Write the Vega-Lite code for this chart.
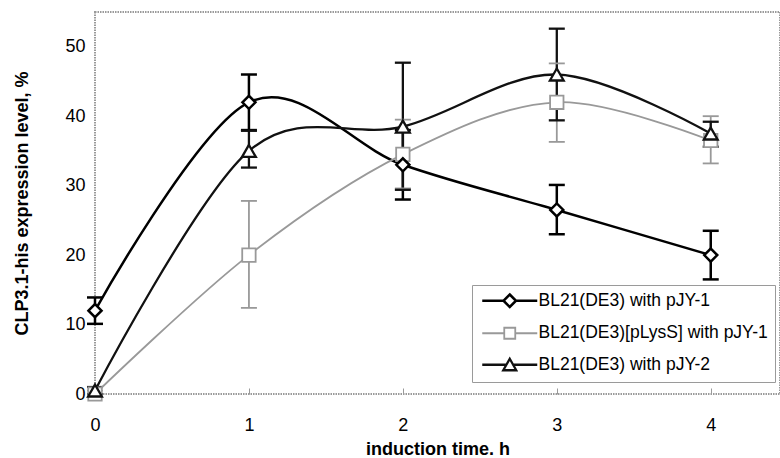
{
  "$schema": "https://vega.github.io/schema/vega-lite/v6.json",
  "width": 685,
  "height": 382,
  "autosize": {"type": "none"},
  "padding": {"left": 95, "top": 12, "right": 0, "bottom": 64},
  "background": "white",
  "config": {
    "font": "Liberation Sans",
    "view": {"stroke": "#9a9a9a", "strokeWidth": 2, "strokeDash": [1.5, 1]},
    "axis": {
      "grid": false,
      "domain": false,
      "labelFont": "Liberation Sans",
      "labelFontSize": 18,
      "labelColor": "#000000",
      "titleFont": "Liberation Sans",
      "titleFontSize": 18,
      "titleFontWeight": "bold",
      "titleColor": "#000000"
    }
  },
  "data": {
    "values": [
      {"s": "BL21(DE3) with pJY-1", "t": 0, "v": 12, "lo": 10.1, "hi": 13.9},
      {"s": "BL21(DE3) with pJY-1", "t": 1, "v": 42, "lo": 38, "hi": 46},
      {"s": "BL21(DE3) with pJY-1", "t": 2, "v": 33, "lo": 28, "hi": 38},
      {"s": "BL21(DE3) with pJY-1", "t": 3, "v": 26.5, "lo": 23, "hi": 30.1},
      {"s": "BL21(DE3) with pJY-1", "t": 4, "v": 20, "lo": 16.5, "hi": 23.5},
      {"s": "BL21(DE3)[pLysS] with pJY-1", "t": 0, "v": 0, "lo": 0, "hi": 0.5},
      {"s": "BL21(DE3)[pLysS] with pJY-1", "t": 1, "v": 20, "lo": 12.4, "hi": 27.8},
      {"s": "BL21(DE3)[pLysS] with pJY-1", "t": 2, "v": 34.5, "lo": 29.6, "hi": 39.5},
      {"s": "BL21(DE3)[pLysS] with pJY-1", "t": 3, "v": 42, "lo": 36.3, "hi": 47.6},
      {"s": "BL21(DE3)[pLysS] with pJY-1", "t": 4, "v": 36.5, "lo": 33.2, "hi": 40},
      {"s": "BL21(DE3) with pJY-2", "t": 0, "v": 0.5, "lo": 0, "hi": 1},
      {"s": "BL21(DE3) with pJY-2", "t": 1, "v": 35, "lo": 32.6, "hi": 37.9},
      {"s": "BL21(DE3) with pJY-2", "t": 2, "v": 38.5, "lo": 29.4, "hi": 47.7},
      {"s": "BL21(DE3) with pJY-2", "t": 3, "v": 46, "lo": 39.4, "hi": 52.6},
      {"s": "BL21(DE3) with pJY-2", "t": 4, "v": 37.5, "lo": 35.6, "hi": 39.2}
    ]
  },
  "encoding": {
    "x": {
      "field": "t",
      "type": "quantitative",
      "scale": {"domain": [0, 4.45], "nice": false, "zero": false},
      "axis": {
        "values": [0, 1, 2, 3, 4],
        "title": "induction time. h",
        "tickSize": -6,
        "tickColor": "#9a9a9a",
        "tickWidth": 1,
        "labelPadding": 28,
        "titlePadding": 6,
        "labelFlush": false
      }
    },
    "stroke": {
      "field": "s",
      "type": "nominal",
      "scale": {
        "domain": ["BL21(DE3) with pJY-1", "BL21(DE3)[pLysS] with pJY-1", "BL21(DE3) with pJY-2"],
        "range": ["#000000", "#999999", "#111111"]
      },
      "legend": {
        "title": null,
        "orient": "none",
        "legendX": 377,
        "legendY": 273,
        "strokeColor": "#9a9a9a",
        "fillColor": "white",
        "padding": 7,
        "symbolOffset": 22,
        "labelOffset": 20,
        "rowPadding": 11.5,
        "labelFont": "Liberation Sans",
        "labelFontSize": 17.5,
        "labelColor": "#000000",
        "labelLimit": 400,
        "symbolSize": 100,
        "symbolStrokeWidth": 2,
        "symbolFillColor": "white",
        "encode": {
          "symbols": {
            "update": {
              "shape": {"signal": "datum.value === 'BL21(DE3) with pJY-1' ? 'M-5.5,0H-1.25M1.25,0H5.5M0,-1.25L1.25,0L0,1.25L-1.25,0Z' : datum.value === 'BL21(DE3) with pJY-2' ? 'M-5.5,0H-0.7M0.7,0H5.5M0,-1.2L1.3,1.1H-1.3Z' : 'M-5.5,0H-1.1M1.1,0H5.5M-1.1,-1.1H1.1V1.1H-1.1Z'"},
              "strokeWidth": {"signal": "datum.value === 'BL21(DE3)[pLysS] with pJY-1' ? 1.6 : 2.3"},
              "fill": {"value": "white"},
              "opacity": {"value": 1}
            }
          }
        }
      }
    },
    "strokeWidth": {
      "field": "s",
      "type": "nominal",
      "scale": {
        "type": "ordinal",
        "domain": ["BL21(DE3) with pJY-1", "BL21(DE3)[pLysS] with pJY-1", "BL21(DE3) with pJY-2"],
        "range": [2.5, 1.8, 2.3]
      },
      "legend": null
    }
  },
  "layer": [
    {
      "mark": {"type": "rule"},
      "encoding": {
        "y": {
          "field": "lo",
          "type": "quantitative",
          "scale": {"domain": [0, 55], "nice": false},
          "axis": {
            "values": [0, 10, 20, 30, 40, 50],
            "ticks": false,
            "labelPadding": 10,
            "title": "CLP3.1-his expression level, %",
            "titlePadding": 33
          }
        },
        "y2": {"field": "hi"}
      }
    },
    {
      "mark": {"type": "rule", "xOffset": -8, "x2Offset": 8},
      "encoding": {
        "x2": {"field": "t"},
        "y": {"field": "lo", "type": "quantitative"}
      }
    },
    {
      "mark": {"type": "rule", "xOffset": -8, "x2Offset": 8},
      "encoding": {
        "x2": {"field": "t"},
        "y": {"field": "hi", "type": "quantitative"}
      }
    },
    {
      "mark": {"type": "line", "interpolate": "cardinal"},
      "encoding": {
        "y": {"field": "v", "type": "quantitative"}
      }
    },
    {
      "transform": [{"filter": "datum.s === 'BL21(DE3)[pLysS] with pJY-1'"}],
      "mark": {"type": "point", "shape": "square", "filled": false, "fill": "white", "fillOpacity": 1, "opacity": 1, "size": 180},
      "encoding": {"y": {"field": "v", "type": "quantitative"}}
    },
    {
      "transform": [{"filter": "datum.s === 'BL21(DE3) with pJY-1'"}],
      "mark": {"type": "point", "shape": "diamond", "filled": false, "fill": "white", "fillOpacity": 1, "opacity": 1, "size": 170},
      "encoding": {"y": {"field": "v", "type": "quantitative"}}
    },
    {
      "transform": [{"filter": "datum.s === 'BL21(DE3) with pJY-2'"}],
      "mark": {"type": "point", "shape": "triangle-up", "filled": false, "fill": "white", "fillOpacity": 1, "opacity": 1, "size": 190},
      "encoding": {"y": {"field": "v", "type": "quantitative"}}
    }
  ]
}
